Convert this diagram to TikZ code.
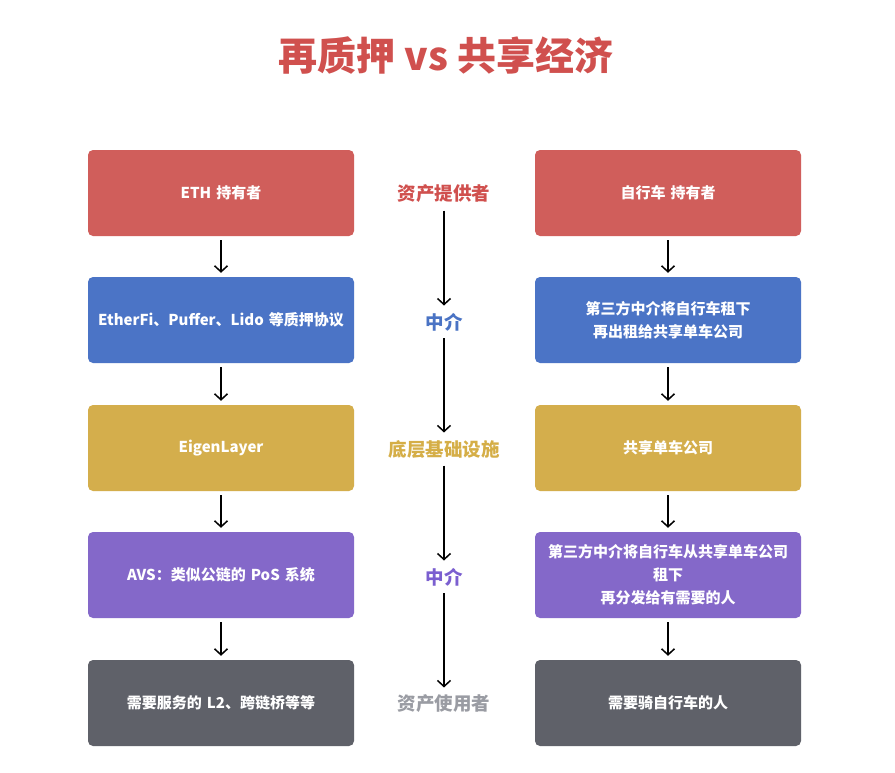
\documentclass[tikz,border=0pt]{standalone}
\usepackage{fontspec}
\setmainfont{Noto Sans CJK SC}
\usepackage{tikz}
\usetikzlibrary{
  arrows.meta,  % 箭头样式
  positioning   % 节点相对定位
}
\definecolor{provRed}{HTML}{D05E5B}
\definecolor{midBlue}{HTML}{4B74C6}
\definecolor{infraGold}{HTML}{D4AE4C}
\definecolor{midPurple}{HTML}{8468C9}
\definecolor{userGray}{HTML}{5F6169}
\definecolor{labRed}{HTML}{D0504E}
\definecolor{labBlue}{HTML}{4A73C4}
\definecolor{labGold}{HTML}{D5AE47}
\definecolor{labPurple}{HTML}{7B5FD0}
\definecolor{labGray}{HTML}{9A9CA3}
\tikzset{
  card/.style={
    rectangle,
    rounded corners=5pt,
    minimum width=266pt,
    minimum height=86pt,
    text width=256pt,
    align=center,
    text=white,
    font=\fontsize{15pt}{23pt}\selectfont\bfseries
  },
  role/.style={
    font=\fontsize{18.5pt}{22pt}\selectfont\bfseries
  },
  flow/.style={
    -{Straight Barb[length=6pt,width=13pt]},
    line width=1.5pt,
    color=black
  }
}

\begin{document}
\begin{tikzpicture}[x=1pt, y=-1pt]
    % 画布范围（与原图比例一致）
    \useasboundingbox[fill=white] (0,0) rectangle (895,772);

    % 标题
    \node[font=\fontsize{39pt}{44pt}\selectfont\bfseries, text=labRed] (title) at (446,56) {再质押 vs 共享经济};

    % 左列：再质押
    \node[card, fill=provRed]   (eth)   at (221,193) {ETH 持有者};
    \node[card, fill=midBlue]   (lrt)   at (221,320) {EtherFi、Puffer、Lido 等质押协议};
    \node[card, fill=infraGold] (eigen) at (221,448) {EigenLayer};
    \node[card, fill=midPurple] (avs)   at (221,575) {AVS：类似公链的 PoS 系统};
    \node[card, fill=userGray]  (l2)    at (221,703) {需要服务的 L2、跨链桥等等};

    % 右列：共享经济
    \node[card, fill=provRed]   (bikeowner) at (668,193) {自行车 持有者};
    \node[card, fill=midBlue]   (sublet)    at (668,320) {第三方中介将自行车租下\\再出租给共享单车公司};
    \node[card, fill=infraGold] (shareco)   at (668,448) {共享单车公司};
    \node[card, fill=midPurple] (resub)     at (668,575) {第三方中介将自行车从共享单车公司\\租下\\再分发给有需要的人};
    \node[card, fill=userGray]  (riders)    at (668,703) {需要骑自行车的人};

    % 中间：角色
    \node[role, text=labRed]    (provider) at (444,194) {资产提供者};
    \node[role, text=labBlue]   (mid1)     at (444,322) {中介};
    \node[role, text=labGold]   (infra)    at (444,449) {底层基础设施};
    \node[role, text=labPurple] (mid2)     at (444,577) {中介};
    \node[role, text=labGray]   (consumer) at (444,704) {资产使用者};

    % 左列箭头
    \draw[flow] ([yshift=-4pt]eth.south)   -- ([yshift=4pt]lrt.north);
    \draw[flow] ([yshift=-4pt]lrt.south)   -- ([yshift=4pt]eigen.north);
    \draw[flow] ([yshift=-4pt]eigen.south) -- ([yshift=4pt]avs.north);
    \draw[flow] ([yshift=-4pt]avs.south)   -- ([yshift=4pt]l2.north);

    % 右列箭头
    \draw[flow] ([yshift=-4pt]bikeowner.south) -- ([yshift=4pt]sublet.north);
    \draw[flow] ([yshift=-4pt]sublet.south)    -- ([yshift=4pt]shareco.north);
    \draw[flow] ([yshift=-4pt]shareco.south)   -- ([yshift=4pt]resub.north);
    \draw[flow] ([yshift=-4pt]resub.south)     -- ([yshift=4pt]riders.north);

    % 中间箭头
    \draw[flow] ([yshift=-4pt]provider.south) -- ([yshift=4pt]mid1.north);
    \draw[flow] ([yshift=-4pt]mid1.south)     -- ([yshift=4pt]infra.north);
    \draw[flow] ([yshift=-4pt]infra.south)    -- ([yshift=4pt]mid2.north);
    \draw[flow] ([yshift=-4pt]mid2.south)     -- ([yshift=4pt]consumer.north);

  \end{tikzpicture}
\end{document}
